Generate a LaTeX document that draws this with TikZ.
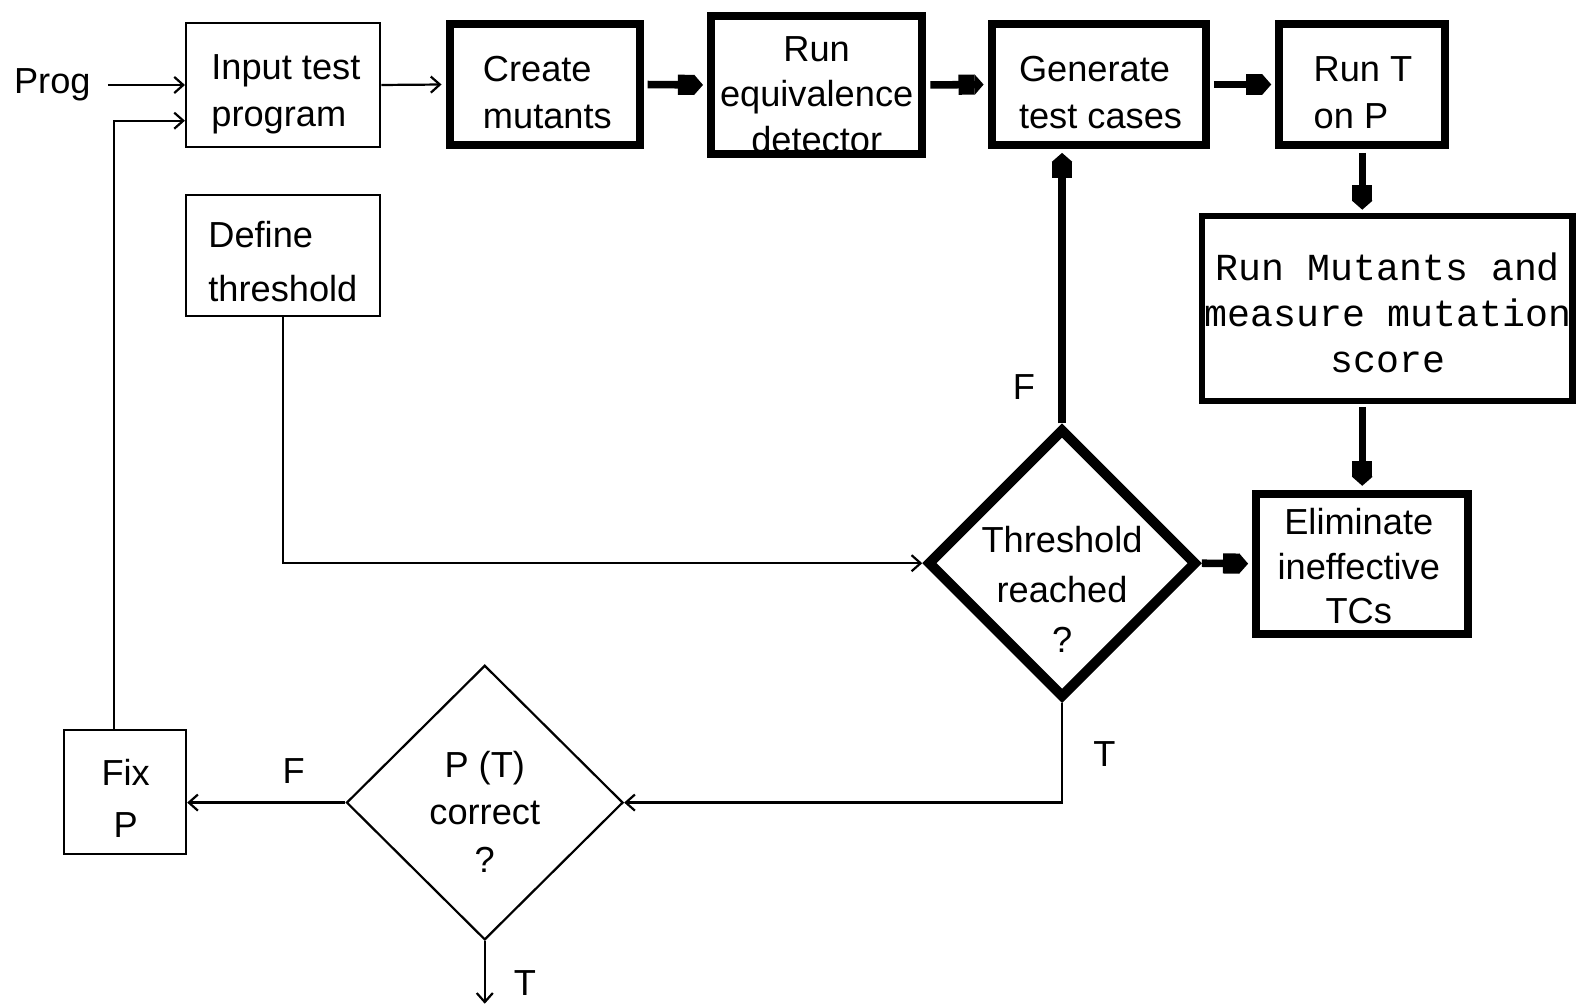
\documentclass[tikz,border=0pt]{standalone}
\usepackage{fontspec}
\setmainfont{Liberation Sans}
\setmonofont{Liberation Mono}
\usetikzlibrary{arrows.meta,shapes.geometric}
\begin{document}
\begin{tikzpicture}[x=1pt,y=-1pt,
  every node/.style={font=\fontsize{36}{47}\selectfont},
  box/.style={draw, inner sep=0pt, line width=2.2pt},
  bbox/.style={draw, inner sep=0pt, line width=8pt},
  txt/.style={align=left, anchor=west, inner sep=0pt},
  ctxt/.style={align=center, inner sep=0pt},
  lbl/.style={inner sep=0pt},
  dia/.style={draw, diamond, inner sep=0pt},
  thinarr/.style={line width=2.2pt, -{Straight Barb[length=9pt,width=16pt,line width=2.2pt]}},
  thickarr/.style={line width=7.5pt, -{Rectangle[length=16pt,width=20pt]Triangle[length=9pt,width=20pt]}}
]
\useasboundingbox (0,0) rectangle (1568,998);

% boxes
\node[box, minimum width=193pt, minimum height=123pt] (inp) at (281.5,84.5) {};
\node[bbox, minimum width=189pt, minimum height=120pt] (cre) at (541.5,84) {};
\node[bbox, minimum width=210pt, minimum height=137pt] (eqv) at (812,84.5) {};
\node[bbox, minimum width=213pt, minimum height=120pt] (gen) at (1092.5,84) {};
\node[bbox, minimum width=165pt, minimum height=120pt] (runt) at (1354.5,84) {};
\node[draw, inner sep=0pt, line width=6pt, minimum width=368pt, minimum height=184pt] (mut) at (1379.5,306.5) {};
\node[bbox, minimum width=211pt, minimum height=139pt] (elim) at (1354.5,560.5) {};
\node[box, minimum width=193pt, minimum height=120pt] (def) at (281.5,254) {};
\node[box, minimum width=121pt, minimum height=123pt] (fix) at (124.5,787.5) {};
\node[dia, line width=10pt, minimum width=268pt, minimum height=268pt] (thr) at (1056,560) {};
\node[dia, line width=2.2pt, minimum width=275pt, minimum height=273pt] (ptc) at (482,798) {};

% texts
\node[lbl] (prog) at (52,84.5) {Prog};
\node[txt] (inptext) at (210,94) {Input test\\program};
\node[txt] (cretext) at (480,92) {Create\\mutants};
\node[ctxt, font=\fontsize{36}{45.5}\selectfont] (eqvtext) at (812,94) {Run\\equivalence\\detector};
\node[txt] (gentext) at (1013,92) {Generate\\test cases};
\node[txt] (runttext) at (1306,92) {Run T\\on P};
\node[ctxt, font=\fontsize{38}{46}\ttfamily\selectfont] (muttext) at (1380,311) {Run Mutants and\\measure mutation\\score};
\node[ctxt, font=\fontsize{36}{44}\selectfont] (elimtext) at (1351,563) {Eliminate\\ineffective\\TCs};
\node[txt, font=\fontsize{36}{53}\selectfont] (deftext) at (207,260) {Define\\threshold};
\node[ctxt, font=\fontsize{36}{50}\selectfont] (thrtext) at (1056,586) {Threshold\\reached\\?};
\node[ctxt, font=\fontsize{36}{47}\selectfont] (ptctext) at (482,807) {P (T)\\correct\\?};
\node[ctxt, font=\fontsize{36}{52}\selectfont] (fixtext) at (125,794) {Fix\\P};

% branch labels
\node[lbl] (lf1) at (1018,385) {F};
\node[lbl] (lt1) at (1098,750) {T};
\node[lbl] (lf2) at (292,767) {F};
\node[lbl] (lt2) at (522,977) {T};

% connectors
\draw[thinarr, shorten <=17pt] (prog.east) -- (inp.west);
\draw[thinarr] ([xshift=-11.5pt]fix.north) |- ([yshift=-35.5pt]inp.west);
\draw[thinarr, shorten >=4pt] (inp.east) -- (cre.west);
\draw[thickarr, shorten <=4pt, shorten >=4pt] (cre.east) -- (eqv.west);
\draw[thickarr, shorten <=4pt, shorten >=4pt] (eqv.east) -- (gen.west);
\draw[thickarr, shorten <=4pt, shorten >=4pt] (gen.east) -- (runt.west);
\draw[thickarr, shorten <=4pt, shorten >=3pt] (runt.south) -- (runt.south |- mut.north);
\draw[thickarr, shorten <=3pt, shorten >=4pt] (elim.north |- mut.south) -- (elim.north);
\draw[thickarr, shorten >=4pt] (thr.east) -- (elim.west);
\draw[thickarr, shorten >=4pt] (thr.north) -- (thr.north |- gen.south);
\draw[thinarr] (def.south) |- (thr.west);
\draw[thinarr] (thr.south) |- (ptc.east);
\draw[thinarr] (ptc.west) -- (ptc.west -| fix.east);
\coordinate (ptcend) at (482,998);
\draw[thinarr] (ptc.south) -- (ptcend);
\end{tikzpicture}
\end{document}
